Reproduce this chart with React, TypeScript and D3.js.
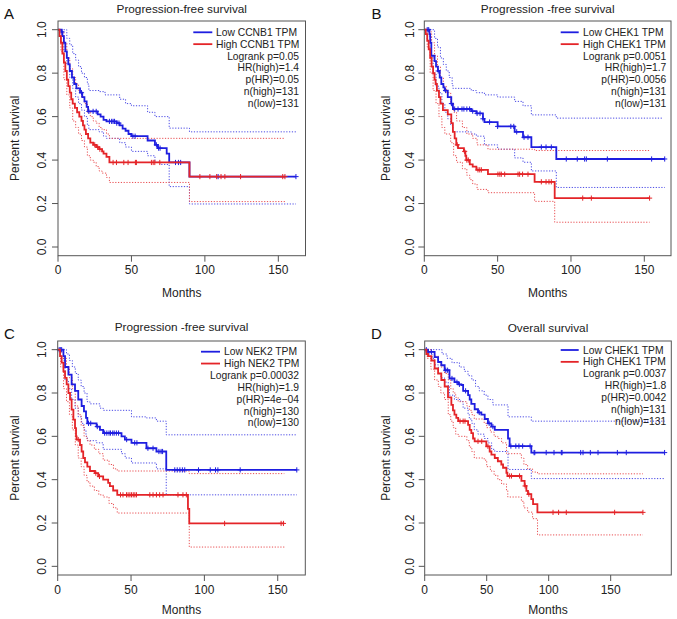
import React from "react";
import * as d3 from "d3";

type Pt = [number, number];

// ---------- shared ticks ----------
const monthTicks = [0, 50, 100, 150];
const survTicks = [0, 0.2, 0.4, 0.6, 0.8, 1.0];

// ---------- Panel A (CCNB1, PFS) ----------
const aTitle = "Progression-free survival";
const aGroups = ["Low CCNB1 TPM", "High CCNB1 TPM"];
const aStats = ["Logrank p=0.05", "HR(high)=1.4", "p(HR)=0.05", "n(high)=131", "n(low)=131"];
const aLow: Pt[] = [[0,1],[2.5,0.99],[3,0.97],[4,0.94],[5,0.9],[6,0.87],[7,0.84],[8,0.81],[9.5,0.78],[11,0.75],[12.5,0.73],[15,0.71],[16.5,0.69],[18,0.67],[19.5,0.645],[20.5,0.624],[27,0.61],[29,0.6],[31,0.585],[33,0.578],[40,0.57],[42,0.56],[44,0.545],[46,0.535],[48,0.52],[50,0.51],[61,0.49],[66,0.47],[68,0.455],[74,0.43],[75.7,0.389],[89.5,0.324],[162,0.324]];
const aLowCens = [2.7, 16, 21, 23.9, 26, 35, 36.5, 37.5, 38.5, 40, 41.5, 51, 52.5, 67, 68.5, 69.5, 80, 82, 83.5, 109, 162];
const aHigh: Pt[] = [[0,1],[1,0.97],[2,0.94],[3,0.89],[4,0.85],[5,0.81],[6,0.77],[7,0.74],[8,0.71],[9,0.68],[10,0.66],[11.5,0.64],[13,0.62],[14.5,0.6],[16,0.58],[17,0.56],[18,0.54],[19,0.52],[20.5,0.5],[22,0.48],[24,0.47],[26,0.46],[28,0.45],[30,0.44],[31,0.43],[33,0.415],[35,0.389],[89.5,0.324],[154.5,0.324]];
const aHighCens = [25, 27, 28.5, 37.5, 39.8, 44.8, 47.7, 52.7, 53.4, 63.6, 64.8, 65.9, 69.3, 96.6, 103.4, 108, 111, 113.6, 124.3, 153, 154.5];
const aLowUp: Pt[] = [[0,1],[4,1],[6,0.96],[8,0.93],[10,0.89],[12,0.86],[14,0.83],[16,0.8],[18,0.78],[20,0.75],[21,0.72],[28,0.715],[32,0.7],[42,0.68],[46,0.66],[50,0.65],[61,0.62],[66,0.6],[75.7,0.547],[89.5,0.53],[162,0.53]];
const aLowLo: Pt[] = [[0,1],[2.5,0.97],[4,0.9],[6,0.84],[8,0.78],[10,0.73],[12,0.69],[14,0.66],[16,0.63],[18,0.6],[20,0.56],[21,0.54],[28,0.53],[31,0.51],[33,0.5],[42,0.48],[46,0.46],[50,0.44],[61,0.42],[66,0.39],[70,0.38],[75.7,0.278],[89.5,0.198],[162,0.198]];
const aHighUp: Pt[] = [[0,1],[2,0.99],[4,0.94],[6,0.87],[8,0.82],[10,0.78],[12,0.75],[14,0.72],[16,0.69],[18,0.66],[20,0.62],[22,0.6],[24,0.58],[26,0.57],[28,0.55],[30,0.54],[33,0.52],[35,0.5],[154.5,0.5]];
const aHighLo: Pt[] = [[0,1],[2,0.9],[4,0.77],[6,0.7],[8,0.64],[10,0.58],[12,0.55],[14,0.52],[16,0.49],[18,0.46],[20,0.42],[22,0.4],[24,0.39],[26,0.37],[28,0.35],[30,0.34],[33,0.32],[35,0.297],[89.5,0.209],[154.5,0.209]];

// ---------- Panel B (CHEK1, PFS) ----------
const bTitle = "Progression -free survival";
const bGroups = ["Low CHEK1 TPM", "High CHEK1 TPM"];
const bStats = ["Logrank p=0.0051", "HR(high)=1.7", "p(HR)=0.0056", "n(high)=131", "n(low)=131"];
const bLow: Pt[] = [[0,1],[3.5,0.98],[4,0.94],[4.8,0.88],[7,0.855],[8,0.83],[9.3,0.81],[10.5,0.78],[11.6,0.75],[13,0.735],[13.9,0.72],[16,0.69],[18.4,0.66],[19.5,0.635],[32,0.625],[35.5,0.615],[40,0.59],[41,0.575],[50,0.555],[61.6,0.53],[67.3,0.505],[73,0.46],[90,0.405],[164,0.405]];
const bLowCens = [2, 3, 9.5, 14.5, 18.5, 20.7, 23, 25.7, 27, 29, 30.9, 33, 36, 38, 40, 44.5, 50, 59, 61, 63, 68, 70.7, 79.8, 83, 86.6, 96.8, 104.3, 109.3, 110.5, 124.8, 155, 163.9];
const bHigh: Pt[] = [[0,1],[1,0.98],[2,0.95],[3,0.91],[4,0.87],[5,0.83],[6,0.8],[7,0.77],[7.7,0.75],[8.6,0.72],[10,0.69],[11,0.66],[12.7,0.63],[16,0.61],[18.4,0.57],[19.5,0.53],[20.7,0.5],[21.8,0.47],[23,0.455],[27,0.44],[28,0.42],[28.6,0.4],[31,0.38],[33,0.37],[35.5,0.355],[43.4,0.335],[75.2,0.3],[88.9,0.225],[153.6,0.225]];
const bHighCens = [22.5, 27.5, 29, 30, 36.6, 37.8, 38.9, 50.2, 51.5, 52.5, 54.8, 63.9, 65, 67, 70.7, 79.8, 83, 85, 86.6, 108, 113.9, 153.6];
const bLowUp: Pt[] = [[0,1],[5,1],[7,0.96],[9,0.92],[11,0.87],[13,0.84],[15,0.81],[17,0.78],[19,0.75],[19.5,0.73],[32,0.72],[35.5,0.71],[41,0.7],[50,0.69],[61.6,0.67],[67.3,0.65],[73,0.608],[90,0.593],[162,0.593]];
const bLowLo: Pt[] = [[0,1],[3.5,0.97],[4.8,0.88],[6,0.8],[8,0.74],[10,0.71],[12,0.66],[14,0.62],[16,0.59],[18,0.56],[19.5,0.53],[32,0.52],[35.5,0.51],[41,0.47],[50,0.45],[61.6,0.41],[67.3,0.39],[73,0.35],[90,0.274],[164,0.274]];
const bHighUp: Pt[] = [[0,1],[3,0.99],[5,0.94],[7,0.88],[9,0.83],[11,0.78],[13,0.74],[15,0.71],[18,0.66],[20,0.62],[22,0.58],[26,0.55],[29,0.52],[33,0.5],[36,0.47],[43.4,0.45],[75.2,0.444],[153.6,0.444]];
const bHighLo: Pt[] = [[0,1],[2,0.92],[4,0.8],[6,0.72],[8,0.66],[10,0.6],[12,0.55],[14,0.52],[18,0.48],[20,0.42],[22,0.39],[26,0.36],[29,0.33],[31,0.31],[33,0.29],[36,0.265],[43.4,0.25],[75.2,0.21],[88.9,0.114],[153.6,0.114]];

// ---------- Panel C (NEK2, PFS) ----------
const cTitle = "Progression -free survival";
const cGroups = ["Low NEK2 TPM", "High NEK2 TPM"];
const cStats = ["Logrank p=0.00032", "HR(high)=1.9", "p(HR)=4e\u221204", "n(high)=130", "n(low)=130"];
const cLow: Pt[] = [[0,1],[3.9,0.97],[5,0.92],[7.3,0.885],[9.5,0.84],[11.8,0.81],[14,0.77],[16.3,0.74],[17.9,0.715],[19.3,0.685],[20.2,0.66],[26.5,0.645],[28.8,0.63],[31,0.615],[43.5,0.6],[45.8,0.585],[50.3,0.57],[60.5,0.545],[67.3,0.53],[74,0.445],[163,0.445]];
const cLowCens = [1, 1.8, 2.7, 21, 22.5, 27, 32, 33.5, 35, 36, 37.5, 38.5, 40, 41.5, 47, 52.5, 54, 61.5, 65, 69, 70.5, 71.5, 79.8, 81.5, 83.3, 85, 86.6, 96, 104, 107.6, 109.2, 124.4, 163];
const cHigh: Pt[] = [[0,1],[1.6,0.97],[2.7,0.94],[3.9,0.9],[5,0.87],[6.1,0.84],[7.3,0.8],[8.4,0.77],[9.5,0.723],[10.7,0.677],[11.8,0.638],[12.5,0.6],[12.9,0.585],[15.2,0.56],[16.3,0.53],[17.4,0.5],[18.6,0.48],[20.2,0.46],[22,0.44],[25.4,0.43],[27.6,0.415],[31,0.4],[34.4,0.385],[35.6,0.37],[37.8,0.35],[40.6,0.33],[88.8,0.265],[89.7,0.198],[154.5,0.198]];
const cHighCens = [14, 26, 28.5, 42.8, 44.5, 46.9, 48, 49.2, 50.3, 51.5, 52.6, 53.7, 62.8, 65, 67.3, 69.5, 71.8, 82, 85.4, 87.7, 113.8, 152.3, 153.9];
const cLowUp: Pt[] = [[0,1],[4,1],[6,0.98],[8,0.95],[10,0.92],[12,0.89],[14,0.86],[16,0.83],[18,0.8],[20,0.76],[22,0.75],[28.8,0.73],[31,0.72],[50.3,0.69],[60.5,0.685],[67.3,0.67],[74,0.607],[163,0.607]];
const cLowLo: Pt[] = [[0,1],[3.9,0.95],[5,0.86],[7.3,0.82],[9.5,0.77],[11.8,0.73],[14,0.69],[16.3,0.66],[17.9,0.63],[19.3,0.6],[20.2,0.58],[26.5,0.57],[31,0.54],[43.5,0.52],[46,0.5],[50.3,0.477],[67.3,0.45],[74,0.33],[163,0.33]];
const cHighUp: Pt[] = [[0,1],[2,0.99],[4,0.96],[6,0.92],[8,0.87],[10,0.82],[12,0.74],[14,0.7],[16,0.65],[18,0.6],[20,0.58],[22,0.56],[25,0.54],[28,0.52],[31,0.49],[35,0.47],[38,0.45],[40.6,0.44],[89.7,0.428],[154.5,0.428]];
const cHighLo: Pt[] = [[0,1],[2,0.92],[4,0.82],[6,0.76],[8,0.7],[10,0.63],[12,0.56],[14,0.5],[16,0.46],[18,0.42],[20,0.39],[22,0.37],[25,0.35],[28,0.33],[31,0.32],[35,0.29],[38,0.27],[40.6,0.246],[89.7,0.089],[154.5,0.089]];

// ---------- Panel D (CHEK1, OS) ----------
const dTitle = "Overall survival";
const dGroups = ["Low CHEK1 TPM", "High CHEK1 TPM"];
const dStats = ["Logrank p=0.0037", "HR(high)=1.8", "p(HR)=0.0042", "n(high)=131", "n(low)=131"];
const dLow: Pt[] = [[0,1],[2.7,0.99],[8,0.966],[10.8,0.943],[13.4,0.928],[16.1,0.905],[20,0.867],[24,0.85],[27,0.84],[29.6,0.837],[31,0.81],[35,0.79],[36.3,0.77],[37.6,0.75],[40.3,0.725],[43,0.71],[45.7,0.7],[48.4,0.68],[51,0.66],[53.8,0.645],[56.5,0.63],[67.2,0.59],[68.5,0.555],[86,0.525],[193.5,0.525]];
const dLowCens = [1.3, 2.7, 5.4, 17, 18.5, 22, 26, 28, 33, 44, 52, 55, 69.5, 73.5, 76, 79, 85, 88.2, 88.8, 98, 104.3, 110.2, 110.8, 125.8, 127.7, 133.6, 139.8, 155.4, 162.6, 193.5];
const dHigh: Pt[] = [[0,1],[1.3,0.98],[2.7,0.97],[5.4,0.95],[8,0.913],[10.8,0.89],[13.4,0.86],[16.1,0.83],[18.8,0.78],[21.5,0.745],[22.8,0.72],[24,0.7],[25.5,0.685],[27,0.67],[35,0.653],[36.3,0.63],[37.6,0.615],[39,0.59],[40.3,0.577],[49.7,0.554],[52.4,0.53],[53.8,0.516],[56.5,0.5],[59,0.485],[61.8,0.47],[63.2,0.455],[65.9,0.432],[66.7,0.417],[78,0.394],[80.6,0.371],[82,0.348],[83.3,0.333],[86,0.31],[87.4,0.287],[90.9,0.249],[176,0.249]];
const dHighCens = [28.5, 31, 32.5, 43, 46, 51, 68.5, 70, 76.5, 81, 84, 103.5, 108, 114.2, 153.2, 176];
const dLowUp: Pt[] = [[0,1],[10,1],[14,0.98],[18,0.96],[22,0.94],[28,0.92],[32,0.9],[35,0.88],[38,0.86],[41,0.83],[44,0.81],[48,0.79],[51,0.77],[55,0.745],[67.2,0.69],[86,0.67],[193.5,0.67]];
const dLowLo: Pt[] = [[0,1],[3,0.98],[6,0.96],[8,0.93],[11,0.89],[13,0.87],[16,0.85],[19,0.83],[20,0.79],[24,0.77],[29,0.76],[31,0.73],[35,0.7],[36,0.68],[38,0.66],[40,0.63],[43,0.61],[48,0.59],[51,0.57],[54,0.54],[56.5,0.53],[67.2,0.447],[86,0.405],[193.5,0.405]];
const dHighUp: Pt[] = [[0,1],[3,1],[5,0.99],[8,0.97],[11,0.94],[13,0.92],[16,0.89],[19,0.86],[21,0.82],[23,0.8],[25,0.78],[27,0.76],[34,0.74],[36,0.72],[38,0.7],[40,0.68],[48,0.66],[50,0.64],[53,0.62],[56,0.6],[59,0.59],[62,0.57],[66,0.52],[78,0.5],[80,0.47],[83,0.45],[87,0.435],[91,0.427],[176,0.427]];
const dHighLo: Pt[] = [[0,1],[2,0.96],[5,0.91],[8,0.86],[11,0.83],[13,0.8],[16,0.77],[19,0.7],[21,0.67],[23,0.64],[25,0.61],[27,0.6],[34,0.58],[36,0.55],[38,0.53],[40,0.5],[48,0.49],[50,0.46],[53,0.44],[56,0.42],[59,0.4],[62,0.38],[66,0.35],[67,0.32],[78,0.3],[80,0.27],[83,0.25],[87,0.22],[91,0.145],[176,0.145]];

// ---------- styling / layout ----------
const BLUE = "#1e1ee0";
const RED = "#e42428";
const AXIS = "#555";
const FONT = "'Liberation Sans', Arial, Helvetica, sans-serif";

interface Layout {
  left: number; top: number; right: number; bottom: number; xMax: number;
  letter: string; letterX: number; letterY: number;
  titleY: number; monthsY: number; yLabX: number; yTickX: number;
  legLine0: number; legLine1: number; legText: number; legRight: number; legY0: number;
}

const layouts: Layout[] = [
  { left: 58, top: 21, right: 305.5, bottom: 255.7, xMax: 168.5, letter: "A", letterX: 4, letterY: 18.5, titleY: 12.8, monthsY: 297.3, yLabX: 15, yTickX: 41.7, legLine0: 193.3, legLine1: 212.3, legText: 216, legRight: 299, legY0: 32.3 },
  { left: 424.3, top: 21, right: 671, bottom: 255.7, xMax: 168.2, letter: "B", letterX: 371.5, letterY: 18.5, titleY: 12.8, monthsY: 297.3, yLabX: 386, yTickX: 409.3, legLine0: 560.7, legLine1: 578.7, legText: 583, legRight: 666.3, legY0: 32.3 },
  { left: 57.7, top: 341, right: 305.3, bottom: 575, xMax: 168.8, letter: "C", letterX: 4, letterY: 338.5, titleY: 331, monthsY: 614.3, yLabX: 15, yTickX: 41.5, legLine0: 201, legLine1: 220, legText: 224, legRight: 299, legY0: 351.7 },
  { left: 424.7, top: 341, right: 671.3, bottom: 575, xMax: 198.9, letter: "D", letterX: 371, letterY: 338.5, titleY: 331.5, monthsY: 614.3, yLabX: 385.5, yTickX: 409.3, legLine0: 560.7, legLine1: 578.7, legText: 583, legRight: 666.3, legY0: 350 },
];

interface PanelData {
  title: string; groups: string[]; stats: string[];
  low: Pt[]; lowCens: number[]; high: Pt[]; highCens: number[];
  lowUp: Pt[]; lowLo: Pt[]; highUp: Pt[]; highLo: Pt[];
}

const panels: PanelData[] = [
  { title: aTitle, groups: aGroups, stats: aStats, low: aLow, lowCens: aLowCens, high: aHigh, highCens: aHighCens, lowUp: aLowUp, lowLo: aLowLo, highUp: aHighUp, highLo: aHighLo },
  { title: bTitle, groups: bGroups, stats: bStats, low: bLow, lowCens: bLowCens, high: bHigh, highCens: bHighCens, lowUp: bLowUp, lowLo: bLowLo, highUp: bHighUp, highLo: bHighLo },
  { title: cTitle, groups: cGroups, stats: cStats, low: cLow, lowCens: cLowCens, high: cHigh, highCens: cHighCens, lowUp: cLowUp, lowLo: cLowLo, highUp: cHighUp, highLo: cHighLo },
  { title: dTitle, groups: dGroups, stats: dStats, low: dLow, lowCens: dLowCens, high: dHigh, highCens: dHighCens, lowUp: dLowUp, lowLo: dLowLo, highUp: dHighUp, highLo: dHighLo },
];

function survAt(steps: Pt[], t: number): number {
  let s = steps[0][1];
  for (const p of steps) {
    if (p[0] <= t + 1e-9) s = p[1];
    else break;
  }
  return s;
}

function Panel({ d, L }: { d: PanelData; L: Layout }) {
  const x = d3.scaleLinear().domain([0, L.xMax]).range([L.left, L.right]);
  const y = d3.scaleLinear().domain([-0.04, 1.04]).range([L.bottom, L.top]);
  const line = d3.line<Pt>().x((p) => x(p[0])).y((p) => y(p[1])).curve(d3.curveStepAfter);
  const cx = (L.left + L.right) / 2;
  const cy = (L.top + L.bottom) / 2;
  const cs = 2.6;

  const censors = (steps: Pt[], times: number[], color: string) =>
    times.map((t, i) => {
      const px = x(t);
      const py = y(survAt(steps, t));
      return (
        <g key={i} stroke={color} strokeWidth={1}>
          <line x1={px} x2={px} y1={py - cs} y2={py + cs} />
          <line x1={px - cs} x2={px + cs} y1={py} y2={py} />
        </g>
      );
    });

  const lh = 11.85;
  return (
    <g>
      <text x={L.letterX} y={L.letterY} fontSize={15} fontFamily={FONT} fill="#111">{L.letter}</text>
      <text x={cx} y={L.titleY} fontSize={11.8} fontFamily={FONT} textAnchor="middle" fill="#222">{d.title}</text>

      {/* CI dotted lines */}
      <g fill="none" strokeWidth={1} strokeDasharray="1.2,1.6" opacity={0.8}>
        <path d={line(d.lowUp) || ""} stroke={BLUE} />
        <path d={line(d.lowLo) || ""} stroke={BLUE} />
        <path d={line(d.highUp) || ""} stroke={RED} />
        <path d={line(d.highLo) || ""} stroke={RED} />
      </g>

      {/* KM curves */}
      <path d={line(d.low) || ""} fill="none" stroke={BLUE} strokeWidth={1.8} />
      {censors(d.low, d.lowCens, BLUE)}
      <path d={line(d.high) || ""} fill="none" stroke={RED} strokeWidth={1.8} />
      {censors(d.high, d.highCens, RED)}

      {/* box */}
      <rect x={L.left} y={L.top} width={L.right - L.left} height={L.bottom - L.top} fill="none" stroke={AXIS} strokeWidth={1} />

      {/* x axis */}
      {monthTicks.map((t) => (
        <g key={"x" + t}>
          <line x1={x(t)} x2={x(t)} y1={L.bottom} y2={L.bottom + 6} stroke={AXIS} strokeWidth={1} />
          <text x={x(t)} y={L.bottom + 18.6} fontSize={12} fontFamily={FONT} textAnchor="middle" fill="#222">{t}</text>
        </g>
      ))}
      <text x={cx} y={L.monthsY} fontSize={12} fontFamily={FONT} textAnchor="middle" fill="#222">Months</text>

      {/* y axis */}
      {survTicks.map((t) => (
        <g key={"y" + t}>
          <line x1={L.left} x2={L.left - 6} y1={y(t)} y2={y(t)} stroke={AXIS} strokeWidth={1} />
          <text transform={`translate(${L.yTickX},${y(t)}) rotate(-90)`} dy="0.35em" fontSize={12} fontFamily={FONT} textAnchor="middle" fill="#222">{t.toFixed(1)}</text>
        </g>
      ))}
      <text transform={`translate(${L.yLabX},${cy}) rotate(-90)`} dy="0.35em" fontSize={12} fontFamily={FONT} textAnchor="middle" fill="#222">Percent survival</text>

      {/* legend */}
      {d.groups.map((g, i) => (
        <g key={"g" + i}>
          <line x1={L.legLine0} x2={L.legLine1} y1={L.legY0 + i * lh} y2={L.legY0 + i * lh} stroke={i === 0 ? BLUE : RED} strokeWidth={1.8} />
          <text x={L.legText} y={L.legY0 + i * lh} dy="0.35em" fontSize={10.3} fontFamily={FONT} fill="#222">{g}</text>
        </g>
      ))}
      {d.stats.map((s, i) => (
        <text key={"s" + i} x={L.legRight} y={L.legY0 + (i + 2) * lh} dy="0.35em" fontSize={10.3} fontFamily={FONT} textAnchor="end" fill="#222">{s}</text>
      ))}
    </g>
  );
}

export default function App() {
  return (
    <svg width={677} height={619} style={{ position: "absolute", left: 0, top: 0, background: "#fff" }}>
      <rect x={0} y={0} width={677} height={619} fill="#fff" />
      {panels.map((p, i) => (
        <Panel key={i} d={p} L={layouts[i]} />
      ))}
    </svg>
  );
}
